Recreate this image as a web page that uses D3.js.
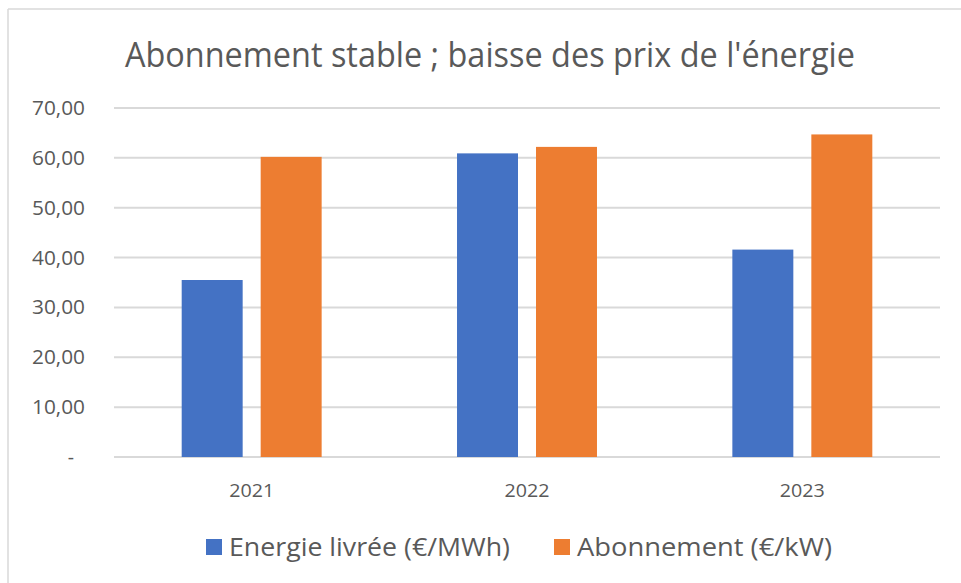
<!DOCTYPE html>
<html>
<head>
<meta charset="utf-8">
<script src="https://cdn.jsdelivr.net/npm/d3@7"></script>
<style>
  body { margin: 0; background: #fff; }
  svg { display: block; }
  text { font-family: "Open Sans", "Noto Sans", sans-serif; fill: #595959; }
</style>
</head>
<body>
<svg id="chart" width="961" height="583"></svg>
<script>
const years = ["2021", "2022", "2023"];
const seriesNames = ["Energie livrée (€/MWh)", "Abonnement (€/kW)"];
const energie = [35.5, 60.9, 41.6];
const abonnement = [60.2, 62.2, 64.7];
const yTicks = [0, 10, 20, 30, 40, 50, 60, 70];
const colors = ["#4472C4", "#ED7D31"];

const svg = d3.select("#chart");
const width = 961;
const height = 583;
const margin = { top: 108, right: 21, bottom: 126, left: 114 };

// chart frame (only top + left edges visible in the screenshot)
svg.append("line")
  .attr("x1", 8).attr("x2", width).attr("y1", 9).attr("y2", 9)
  .attr("stroke", "#d9d9d9").attr("stroke-width", 1.5);
svg.append("line")
  .attr("x1", 8).attr("x2", 8).attr("y1", 9).attr("y2", height)
  .attr("stroke", "#d9d9d9").attr("stroke-width", 1.5);

const x0 = d3.scaleBand()
  .domain(years)
  .range([margin.left, width - margin.right])
  .padding(0);

const x1 = d3.scaleBand()
  .domain(seriesNames)
  .range([0, x0.bandwidth()])
  .paddingInner(0.228)
  .paddingOuter(0.857);

const y = d3.scaleLinear()
  .domain([0, 70])
  .range([height - margin.bottom, margin.top]);

// gridlines
svg.append("g")
  .selectAll("line")
  .data(yTicks)
  .join("line")
  .attr("x1", margin.left)
  .attr("x2", width - margin.right)
  .attr("y1", d => y(d))
  .attr("y2", d => y(d))
  .attr("stroke", "#d9d9d9")
  .attr("stroke-width", 2);

// y labels
const fmt = d => d === 0 ? "-" : d.toFixed(2).replace(".", ",");
svg.append("g")
  .selectAll("text")
  .data(yTicks)
  .join("text")
  .attr("x", d => d === 0 ? 74 : 85)
  .attr("y", d => y(d))
  .attr("dy", "0.36em")
  .attr("text-anchor", "end")
  .style("font-size", "19.5px")
  .attr("textLength", d => d === 0 ? null : 53)
  .attr("lengthAdjust", "spacingAndGlyphs")
  .text(fmt);

// bars
const rows = years.map((year, i) => ({ year, values: [energie[i], abonnement[i]] }));

svg.append("g")
  .selectAll("g")
  .data(rows)
  .join("g")
  .attr("transform", d => `translate(${x0(d.year)},0)`)
  .selectAll("rect")
  .data(d => d.values.map((v, i) => ({ name: seriesNames[i], value: v, i })))
  .join("rect")
  .attr("x", d => x1(d.name))
  .attr("width", x1.bandwidth())
  .attr("y", d => y(d.value))
  .attr("height", d => y(0) - y(d.value))
  .attr("fill", d => colors[d.i]);

// x labels
svg.append("g")
  .selectAll("text")
  .data(years)
  .join("text")
  .attr("x", d => x0(d) + x0.bandwidth() / 2)
  .attr("y", 497)
  .attr("text-anchor", "middle")
  .style("font-size", "18px")
  .attr("textLength", 45)
  .attr("lengthAdjust", "spacingAndGlyphs")
  .text(d => d);

// title
svg.append("text")
  .attr("x", 490)
  .attr("y", 67)
  .attr("text-anchor", "middle")
  .style("font-size", "35px")
  .attr("textLength", 730)
  .attr("lengthAdjust", "spacingAndGlyphs")
  .text("Abonnement stable ; baisse des prix de l'énergie");

// legend
const legendItems = [
  { name: seriesNames[0], color: colors[0], x: 206, w: 281 },
  { name: seriesNames[1], color: colors[1], x: 554, w: 255 },
];
const legend = svg.append("g")
  .selectAll("g")
  .data(legendItems)
  .join("g")
  .attr("transform", d => `translate(${d.x},547)`);

legend.append("rect")
  .attr("x", 0).attr("y", -8)
  .attr("width", 16).attr("height", 16)
  .attr("fill", d => d.color);

legend.append("text")
  .attr("x", 23)
  .attr("dy", "0.36em")
  .style("font-size", "25px")
  .attr("textLength", d => d.w)
  .attr("lengthAdjust", "spacingAndGlyphs")
  .text(d => d.name);
</script>
</body>
</html>
